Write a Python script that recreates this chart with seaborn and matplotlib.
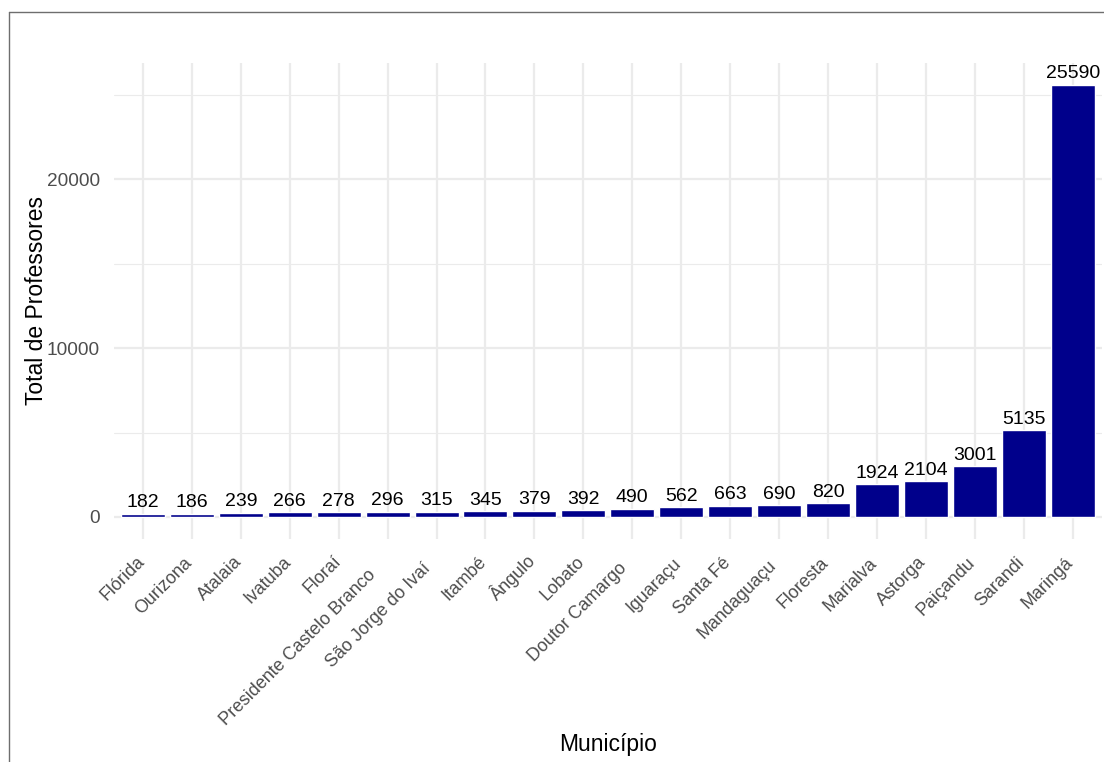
import matplotlib
matplotlib.use("Agg")
import matplotlib.pyplot as plt
import matplotlib.transforms as mtrans
from matplotlib.font_manager import FontProperties
import seaborn as sns
import pandas as pd
from matplotlib.ticker import MultipleLocator, FixedLocator
from matplotlib.lines import Line2D

municipios = ["Flórida", "Ourizona", "Atalaia", "Ivatuba", "Floraí",
              "Presidente Castelo Branco", "São Jorge do Ivaí", "Itambé", "Ângulo",
              "Lobato", "Doutor Camargo", "Iguaraçu", "Santa Fé", "Mandaguaçu",
              "Floresta", "Marialva", "Astorga", "Paiçandu", "Sarandi", "Maringá"]
professores = [182, 186, 239, 266, 278, 296, 315, 345, 379, 392, 490, 562, 663,
               690, 820, 1924, 2104, 3001, 5135, 25590]
y_ticks = [0, 10000, 20000]
y_tick_labels = ["0", "10000", "20000"]

df = pd.DataFrame({"Município": municipios, "Total de Professores": professores})

sns.set_theme(style="white")
plt.rcParams["font.family"] = ["Liberation Sans", "DejaVu Sans"]

W, H = 1104, 762
DPI = 100
fig = plt.figure(figsize=(W / DPI, H / DPI), dpi=DPI)
left, right, top, bottom = 113.6, 1102, 63, 538.6
ax = fig.add_axes([left / W, 1 - bottom / H, (right - left) / W, (bottom - top) / H])

sns.barplot(data=df, x="Município", y="Total de Professores", order=municipios,
            color="#00008B", saturation=1, width=0.9, ax=ax, zorder=3)

ymax = max(professores)
ax.set_ylim(-0.05 * ymax, 1.05 * ymax)
ax.set_xlim(-0.6, len(municipios) - 0.4)

ax.yaxis.set_major_locator(FixedLocator(y_ticks))
ax.set_yticklabels(y_tick_labels)
ax.yaxis.set_minor_locator(MultipleLocator(5000))
ax.grid(axis="y", which="major", color="#EBEBEB", linewidth=1.6, zorder=0)
ax.grid(axis="y", which="minor", color="#EBEBEB", linewidth=0.8, zorder=0)
ax.grid(axis="x", which="major", color="#EBEBEB", linewidth=1.6, zorder=0)
ax.set_axisbelow(True)

for s in ax.spines.values():
    s.set_visible(False)

ax.tick_params(axis="both", which="both", length=0)
ax.tick_params(axis="y", pad=10, labelsize=13.7, labelcolor="#4D4D4D")
ax.tick_params(axis="x", pad=0, labelsize=12.9, labelcolor="#4D4D4D")

ax.bar_label(ax.containers[0], labels=[str(v) for v in professores],
             padding=1.8, fontsize=14, color="black")

ax.set_xlabel("Município", fontsize=16.5, color="black")
ax.set_ylabel("Total de Professores", fontsize=16.5, color="black")
ax.xaxis.set_label_coords(0.5, (H - 745 - (H - bottom)) / (bottom - top))
ax.xaxis.label.set_va("center")
ax.yaxis.set_label_coords((37 - left) / (right - left), 0.5)
ax.yaxis.label.set_va("center")

# outer border (top and left visible)
fig.add_artist(Line2D([9 / W, 9 / W], [0, 1 - 12 / H], transform=fig.transFigure,
                      color="#6E6E6E", linewidth=1.0))
fig.add_artist(Line2D([9 / W, 1], [1 - 12 / H, 1 - 12 / H], transform=fig.transFigure,
                      color="#6E6E6E", linewidth=1.0))

# rotated x tick labels: start point placed as if justified with a wider nominal font
renderer = fig.canvas.get_renderer()
nominal = FontProperties(family="Liberation Sans", size=14.4)
c45 = 0.7071
for lab in ax.get_xticklabels():
    txt = lab.get_text()
    w_nom, _, _ = renderer.get_text_width_height_descent(txt, nominal, ismath=False)
    dx = 6.7 - c45 * w_nom
    dy = -(557.7 - bottom) - c45 * w_nom
    lab.set_rotation(45)
    lab.set_ha("left")
    lab.set_va("baseline")
    lab.set_rotation_mode("anchor")
    lab.set_transform(lab.get_transform() +
                      mtrans.ScaledTranslation(dx / DPI, dy / DPI, fig.dpi_scale_trans))

fig.savefig("out.png", dpi=DPI, facecolor="white")
